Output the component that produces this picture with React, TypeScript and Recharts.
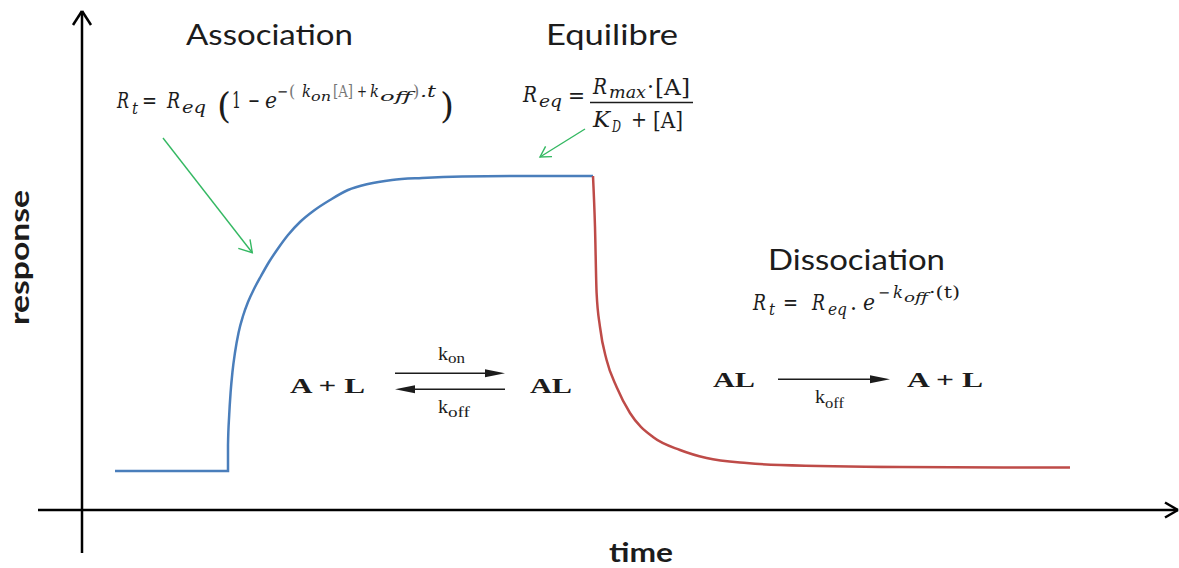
import React from "react";
import { LineChart, Line, XAxis, YAxis, ReferenceLine } from "recharts";

// time (s) and response (RU)
const assocTime = [16.5, 73, 73, 73.6, 74.3, 75.2, 76.5, 78.3, 80.5, 83, 86, 89.5, 93.5, 98, 103, 109, 116, 124, 133, 143, 155, 170, 190, 220, 255.5];
const assocResp = [7.8, 7.8, 13, 19, 23.5, 27.5, 31.5, 35.5, 38.8, 41.6, 44.2, 46.8, 49.6, 52.3, 55, 57.6, 59.9, 62, 64, 65.2, 66, 66.4, 66.7, 66.8, 66.8];
const dissocTime = [255.5, 256.5, 257.3, 259, 262.3, 267.3, 274, 285.5, 299, 312.3, 332.3, 349, 409, 494];
const dissocResp = [66.8, 56.6, 43.4, 36.6, 30, 24.6, 19.4, 14.6, 12, 10.4, 9.4, 9, 8.6, 8.5];

const assocData = assocTime.map((t, i) => ({ t, r: assocResp[i] }));
const dissocData = dissocTime.map((t, i) => ({ t, r: dissocResp[i] }));

const W = 1179;
const H = 568;
const MATH = "'DejaVu Serif', serif";
const CHEM = "'Liberation Serif', 'Times New Roman', serif";
const SANS = "Lato, 'Open Sans', sans-serif";
const INK = "#1c1c1c";
const GRAY = "#777";
const GREEN = "#34b862";

const T = (p: any) => {
  const { x, y, size = 22, italic = false, bold = false, len, color = INK, family = MATH, children } = p;
  return (
    <text
      x={x}
      y={y}
      fontFamily={family}
      fontSize={size}
      fontStyle={italic ? "italic" : "normal"}
      fontWeight={bold ? "bold" : "normal"}
      fill={color}
      textLength={len}
      lengthAdjust={len ? "spacingAndGlyphs" : undefined}
    >
      {children}
    </text>
  );
};

// a symbol with its subscript, kept in one text element
const Sub = (p: any) => {
  const { x, y, base, sub, size = 22, subSize = 16, baseLen, subX, subY, subLen, italicSub = true, family = MATH } = p;
  return (
    <text fontFamily={family} fill={INK}>
      <tspan x={x} y={y} fontSize={size} fontStyle="italic" textLength={baseLen} lengthAdjust="spacingAndGlyphs">
        {base}
      </tspan>
      <tspan
        x={subX}
        y={subY}
        fontSize={subSize}
        fontStyle={italicSub ? "italic" : "normal"}
        textLength={subLen}
        lengthAdjust="spacingAndGlyphs"
      >
        {sub}
      </tspan>
    </text>
  );
};

const Overlay = () => (
  <svg width={W} height={H} style={{ position: "absolute", left: 0, top: 0, pointerEvents: "none" }}>
    {/* titles */}
    <T x={186} y={45} size={28} family={SANS} len={167}>Association</T>
    <T x={546} y={45} size={28} family={SANS} len={132}>Equilibre</T>
    <T x={768} y={270} size={28} family={SANS} len={177}>Dissociation</T>
    <T x={609} y={562} size={26} family={SANS} bold len={64}>time</T>
    <g transform="translate(29,325) rotate(-90)">
      <T x={0} y={0} size={26} family={SANS} bold len={135}>response</T>
    </g>

    {/* formula 1 */}
    <Sub x={117} y={108} base="R" baseLen={12} sub="t" subX={132} subY={114} subLen={6} />
    <T x={142} y={108} len={15}>=</T>
    <Sub x={167} y={108} base="R" baseLen={13} sub="eq" subX={182} subY={113} subLen={24} />
    <T x={217} y={118} size={36}>(</T>
    <T x={232} y={108} len={9}>1</T>
    <T x={248} y={108} len={12}>−</T>
    <T x={265} y={108} italic len={12}>e</T>
    <T x={277} y={97} size={16} len={11}>−</T>
    <T x={289} y={97} size={16} color={GRAY}>(</T>
    <Sub x={302} y={97} size={16} subSize={12} base="k" baseLen={9} sub="on" subX={311} subY={101} subLen={20} />
    <T x={333} y={97} size={16} color={GRAY} len={20}>[A]</T>
    <T x={357} y={97} size={16} len={10}>+</T>
    <Sub x={370} y={97} size={16} subSize={12} base="k" baseLen={9} sub="off" subX={380} subY={101} subLen={32} />
    <T x={413} y={97} size={16} color={GRAY}>)</T>
    <T x={420} y={97} size={16} italic len={16}>.t</T>
    <T x={440} y={118} size={36}>)</T>

    {/* formula 2 */}
    <Sub x={523} y={102} base="R" baseLen={14} sub="eq" subX={539} subY={107} subLen={23} />
    <T x={568} y={103} len={17}>=</T>
    <Sub x={593} y={94} base="R" baseLen={14} sub="max" subX={609} subY={98} subLen={37} />
    <T x={647} y={94}>·</T>
    <T x={655} y={95} size={23} len={35}>[A]</T>
    <line x1={590} y1={102.5} x2={693} y2={102.5} stroke={INK} strokeWidth={1.3} />
    <Sub x={593} y={127} base="K" baseLen={17} sub="D" subX={612} subY={132} subLen={9} />
    <T x={631} y={127} len={16}>+</T>
    <T x={653} y={128} size={23} len={30}>[A]</T>

    {/* formula 3 */}
    <Sub x={753} y={310} base="R" baseLen={13} sub="t" subX={769} subY={315} subLen={6} />
    <T x={783} y={310} len={15}>=</T>
    <Sub x={812} y={310} base="R" baseLen={13} sub="eq" subX={828} subY={315} subLen={19} />
    <T x={850} y={310}>.</T>
    <T x={863} y={310} italic len={12}>e</T>
    <T x={878} y={298} size={16} len={12}>−</T>
    <Sub x={893} y={298} size={16} subSize={12} base="k" baseLen={10} sub="off" subX={904} subY={302} subLen={24} />
    <T x={929} y={298} size={16} len={31}>·(t)</T>

    {/* reaction 1 */}
    <T x={290} y={393} size={21} bold family={CHEM} len={75}>A + L</T>
    <T x={530} y={393} size={21} bold family={CHEM} len={42}>AL</T>
    <text fontFamily={CHEM} fill={INK}>
      <tspan x={438} y={360} fontSize={18} textLength={10} lengthAdjust="spacingAndGlyphs">k</tspan>
      <tspan x={448} y={363} fontSize={14} textLength={17} lengthAdjust="spacingAndGlyphs">on</tspan>
    </text>
    <text fontFamily={CHEM} fill={INK}>
      <tspan x={438} y={413} fontSize={18} textLength={10} lengthAdjust="spacingAndGlyphs">k</tspan>
      <tspan x={448} y={417} fontSize={14} textLength={22} lengthAdjust="spacingAndGlyphs">off</tspan>
    </text>
    <line x1={395} y1={373.3} x2={490} y2={373.3} stroke={INK} strokeWidth={1.4} />
    <polygon points="505,373.3 485,369.3 485,377.3" fill={INK} />
    <line x1={410} y1={389.3} x2={505} y2={389.3} stroke={INK} strokeWidth={1.4} />
    <polygon points="395,389.3 415,385.3 415,393.3" fill={INK} />

    {/* reaction 2 */}
    <T x={713} y={387} size={22} bold family={CHEM} len={42}>AL</T>
    <T x={907} y={387} size={22} bold family={CHEM} len={76}>A + L</T>
    <line x1={778} y1={379.3} x2={875} y2={379.3} stroke={INK} strokeWidth={1.4} />
    <polygon points="890,379.3 870,375.3 870,383.3" fill={INK} />
    <text fontFamily={CHEM} fill={INK}>
      <tspan x={815} y={403} fontSize={18} textLength={10} lengthAdjust="spacingAndGlyphs">k</tspan>
      <tspan x={825} y={408} fontSize={14} textLength={19} lengthAdjust="spacingAndGlyphs">off</tspan>
    </text>

    {/* green pointers */}
    <g stroke={GREEN} strokeWidth={1.4} fill="none">
      <line x1={163} y1={138} x2={252.3} y2={252.7} />
      <polyline points="238.3,248.3 252.3,252.7 250,239.3" />
      <line x1={585} y1={129} x2={540} y2={157} />
      <polyline points="552,156.6 540,157 545.6,146.4" />
    </g>
  </svg>
);

export default function App() {
  return (
    <div style={{ position: "absolute", left: 0, top: 0, width: W, height: H, background: "#fff" }}>
      <LineChart width={W} height={H} margin={{ top: 10, right: 7, bottom: 58, left: 82 }}>
        <XAxis type="number" dataKey="t" domain={[0, 545]} hide allowDataOverflow />
        <YAxis type="number" dataKey="r" domain={[0, 100]} hide allowDataOverflow />
        {/* axes with arrow heads */}
        <ReferenceLine segment={[{ x: -22, y: 0 }, { x: 548, y: 0 }]} ifOverflow="visible" stroke="#000" strokeWidth={2.5} />
        <ReferenceLine segment={[{ x: 541.5, y: 1.5 }, { x: 548, y: 0 }]} ifOverflow="visible" stroke="#000" strokeWidth={2.5} />
        <ReferenceLine segment={[{ x: 541.5, y: -1.5 }, { x: 548, y: 0 }]} ifOverflow="visible" stroke="#000" strokeWidth={2.5} />
        <ReferenceLine segment={[{ x: 0, y: -8.6 }, { x: 0, y: 99.8 }]} ifOverflow="visible" stroke="#000" strokeWidth={2.5} />
        <ReferenceLine segment={[{ x: -4.5, y: 97 }, { x: 0, y: 99.8 }]} ifOverflow="visible" stroke="#000" strokeWidth={2.5} />
        <ReferenceLine segment={[{ x: 4.5, y: 97 }, { x: 0, y: 99.8 }]} ifOverflow="visible" stroke="#000" strokeWidth={2.5} />
        <Line data={assocData} dataKey="r" type="monotone" stroke="#4a7ebb" strokeWidth={2.5} dot={false} isAnimationActive={false} />
        <Line data={dissocData} dataKey="r" type="monotone" stroke="#be4b48" strokeWidth={2.5} dot={false} isAnimationActive={false} />
      </LineChart>
      <Overlay />
    </div>
  );
}
